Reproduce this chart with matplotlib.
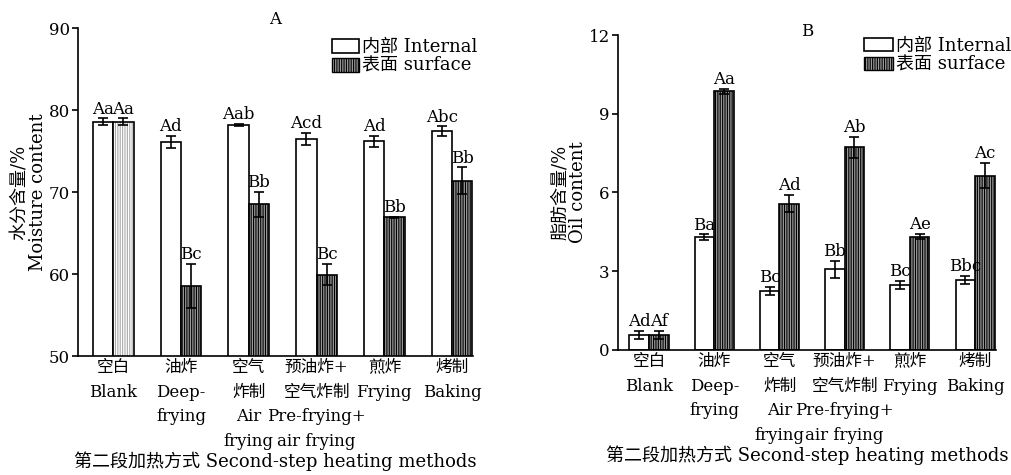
import matplotlib
matplotlib.use("Agg")
import matplotlib.pyplot as plt
from matplotlib.patches import Patch
import numpy as np

plt.rcParams['font.family'] = ['DejaVu Serif', 'Noto Sans CJK SC']
plt.rcParams['hatch.linewidth'] = 0.8
plt.rcParams['axes.unicode_minus'] = False

categories = ["空白\nBlank", "油炸\nDeep-\nfrying", "空气\n炸制\nAir\nfrying",
              "预油炸+\n空气炸制\nPre-frying+\nair frying", "煎炸\nFrying", "烤制\nBaking"]

# Panel A: moisture content
moist_int = [78.6, 76.1, 78.2, 76.5, 76.2, 77.4]
moist_int_err = [0.4, 0.75, 0.15, 0.75, 0.65, 0.6]
moist_sur = [78.6, 58.5, 68.5, 59.9, 66.9, 71.4]
moist_sur_err = [0.4, 2.7, 1.55, 1.3, 0.1, 1.6]
moist_int_lab = ["Aa", "Ad", "Aab", "Acd", "Ad", "Abc"]
moist_sur_lab = ["Aa", "Bc", "Bb", "Bc", "Bb", "Bb"]

# Panel B: oil content
oil_int = [0.57, 4.3, 2.26, 3.08, 2.48, 2.68]
oil_int_err = [0.15, 0.1, 0.15, 0.32, 0.15, 0.15]
oil_sur = [0.57, 9.85, 5.57, 7.72, 4.32, 6.64]
oil_sur_err = [0.15, 0.1, 0.33, 0.4, 0.1, 0.48]
oil_int_lab = ["Ad", "Ba", "Bc", "Bb", "Bc", "Bbc"]
oil_sur_lab = ["Af", "Aa", "Ad", "Ab", "Ae", "Ac"]

FS = 13
W = 0.30
HATCH_FACE = '#9a9a9a'

fig = plt.figure(figsize=(10.12, 4.75), dpi=100)
axA = fig.add_axes([0.0771, 0.2505, 0.3903, 0.6905])
axB = fig.add_axes([0.6107, 0.2632, 0.3735, 0.6631])


def draw(ax, vi, ei, vs, es, li, ls, ylim, yticks, ylabel, xlim, light_first):
    x = np.arange(len(categories))
    ax.bar(x - W / 2, vi, W, color='white', edgecolor='black', linewidth=1.2, zorder=2)
    for i in range(len(x)):
        if light_first and i == 0:
            ax.bar(x[i] + W / 2, vs[i], W, color='white', edgecolor='#aaaaaa',
                   hatch='|||||||', linewidth=0, zorder=2)
        else:
            ax.bar(x[i] + W / 2, vs[i], W, color=HATCH_FACE, edgecolor='black',
                   hatch='|||||||', linewidth=0, zorder=2)
    ax.bar(x + W / 2, vs, W, fill=False, edgecolor='black', linewidth=1.2, zorder=3)
    ax.errorbar(x - W / 2, vi, yerr=ei, fmt='none', ecolor='black', elinewidth=1.2,
                capsize=3.5, capthick=1.2, zorder=4)
    ax.errorbar(x + W / 2, vs, yerr=es, fmt='none', ecolor='black', elinewidth=1.2,
                capsize=3.5, capthick=1.2, zorder=4)
    for i in range(len(x)):
        ax.annotate(li[i], (x[i] - W / 2, vi[i] + ei[i]), xytext=(0, 0.5),
                    textcoords='offset points', ha='center', va='bottom', fontsize=FS - 1)
        ax.annotate(ls[i], (x[i] + W / 2, vs[i] + es[i]), xytext=(0, 0.5),
                    textcoords='offset points', ha='center', va='bottom', fontsize=FS - 1)
    ax.set_ylim(*ylim)
    ax.set_yticks(yticks)
    ax.set_xlim(*xlim)
    ax.set_xticks(x)
    ax.set_xticklabels(categories, fontsize=12, linespacing=1.6)
    ax.tick_params(axis='x', length=0, pad=2)
    ax.tick_params(axis='y', length=4, width=1.2, direction='out', labelsize=12, pad=2)
    for s in ['top', 'right']:
        ax.spines[s].set_visible(False)
    for s in ['left', 'bottom']:
        ax.spines[s].set_linewidth(1.2)
    ax.set_ylabel(ylabel, fontsize=FS, linespacing=1.0, labelpad=1)
    ax.set_xlabel("第二段加热方式 Second-step heating methods", fontsize=FS, labelpad=1)
    handles = [Patch(facecolor='white', edgecolor='black', linewidth=1.2, label="内部 Internal"),
               Patch(facecolor=HATCH_FACE, edgecolor='black', hatch='|||||||', linewidth=1.0,
                     label="表面 surface")]
    return handles


hA = draw(axA, moist_int, moist_int_err, moist_sur, moist_sur_err, moist_int_lab, moist_sur_lab,
          (50, 90), [50, 60, 70, 80, 90], "水分含量/%\nMoisture content", (-0.52, 5.31), True)
hB = draw(axB, oil_int, oil_int_err, oil_sur, oil_sur_err, oil_int_lab, oil_sur_lab,
          (0, 12), [0, 3, 6, 9, 12], "脂肪含量/%\nOil content", (-0.475, 5.32), False)

axA.set_title("A", fontsize=FS - 1, pad=3)
axB.text(0.5, 1.01, "B", transform=axB.transAxes, ha='center', va='center', fontsize=FS - 1)

axA.legend(handles=hA, loc='upper right', bbox_to_anchor=(1.015, 0.975), frameon=False,
           fontsize=FS, handlelength=1.5, handleheight=0.8, handletextpad=0.15,
           labelspacing=0.05, borderpad=0.1, borderaxespad=0)
axB.legend(handles=hB, loc='upper right', bbox_to_anchor=(1.045, 1.0), frameon=False,
           fontsize=FS, handlelength=1.6, handleheight=0.8, handletextpad=0.15,
           labelspacing=0.05, borderpad=0.1, borderaxespad=0)

fig.savefig("out.png", dpi=100)
